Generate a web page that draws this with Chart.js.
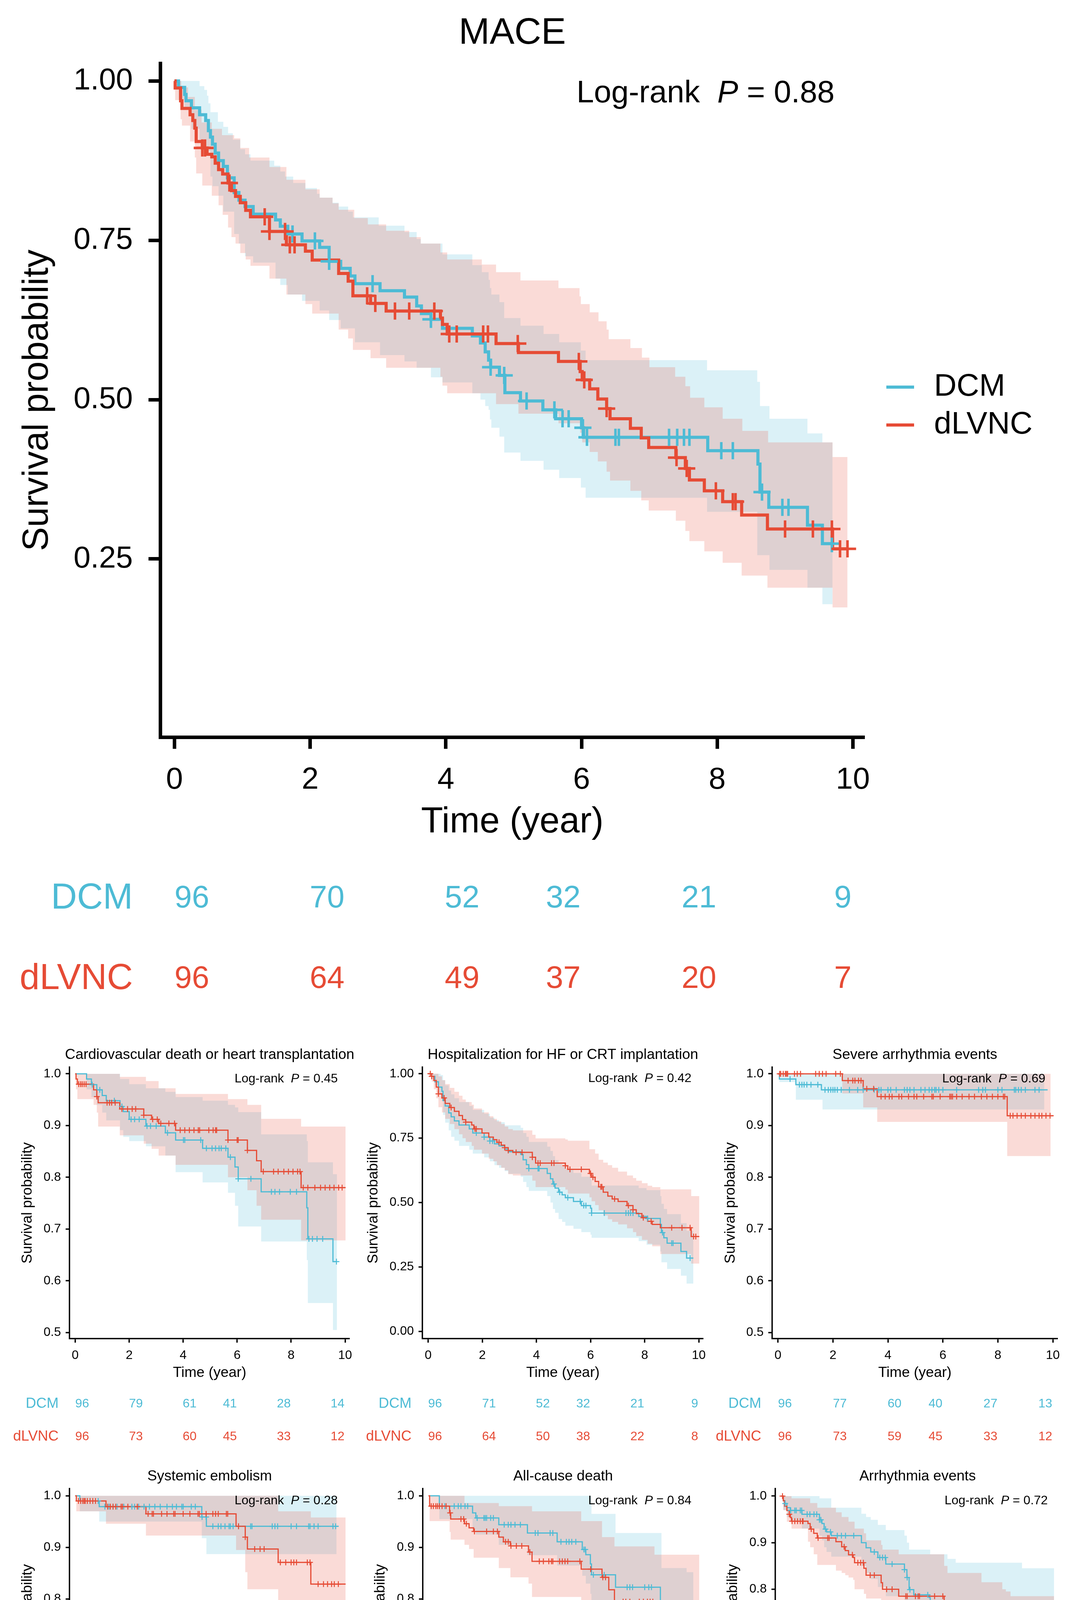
<!DOCTYPE html>
<html>
<head>
<meta charset="utf-8">
<title>MACE Kaplan-Meier curves</title>
<script src="https://cdn.jsdelivr.net/npm/chart.js@4.4.1/dist/chart.umd.min.js"></script>
<style>
html, body { margin:0; padding:0; background:#ffffff; }
body { position:relative; width:2761px; height:4846px; overflow:hidden; }
canvas { position:absolute; display:block; }
</style>
</head>
<body>
<script>
// ---------------- DATA ----------------
const GROUPS = ['DCM', 'dLVNC'];
const X_TICKS = [0, 2, 4, 6, 8, 10];
const X_TICK_LABELS = ['0', '2', '4', '6', '8', '10'];
const Y_TICKS_MAIN = [0.25, 0.5, 0.75, 1.0];
const Y_TICK_LABELS_MAIN = ['0.25', '0.50', '0.75', '1.00'];
const Y_TICKS_HALF = [0.5, 0.6, 0.7, 0.8, 0.9, 1.0];
const Y_TICK_LABELS_HALF = ['0.5', '0.6', '0.7', '0.8', '0.9', '1.0'];
const Y_TICKS_FULL = [0, 0.25, 0.5, 0.75, 1.0];
const Y_TICK_LABELS_FULL = ['0.00', '0.25', '0.50', '0.75', '1.00'];
const RISK_TIMES = [0, 2.25, 4.24, 5.73, 7.73, 9.98];

// MACE
const mace_dcm_curve = [[0,1],[0.06,0.990],[0.15,0.979],[0.17,0.969],[0.25,0.958],[0.37,0.947],[0.46,0.938],[0.50,0.922],[0.53,0.912],[0.56,0.901],[0.60,0.887],[0.65,0.875],[0.72,0.866],[0.78,0.848],[0.88,0.825],[0.95,0.813],[1.04,0.803],[1.16,0.791],[1.49,0.782],[1.56,0.772],[1.67,0.760],[1.88,0.749],[2.14,0.739],[2.28,0.717],[2.45,0.706],[2.59,0.694],[2.66,0.682],[3.03,0.671],[3.39,0.661],[3.57,0.647],[3.64,0.635],[3.78,0.626],[3.95,0.612],[4.39,0.600],[4.51,0.589],[4.58,0.575],[4.63,0.562],[4.66,0.551],[4.79,0.538],[4.87,0.511],[5.10,0.498],[5.43,0.484],[5.62,0.470],[6.00,0.456],[6.03,0.441],[7.86,0.420],[8.60,0.399],[8.63,0.355],[8.76,0.331],[9.33,0.303],[9.55,0.274],[9.70,0.274]];
const mace_dcm_censor = [1.74,2.07,2.28,2.92,3.78,4.66,4.86,5.19,5.60,5.72,5.81,6.02,6.08,6.50,6.55,7.29,7.41,7.51,7.59,8.06,8.23,8.66,8.96,9.05,9.69];
const mace_dcm_upper = [[0,1],[0.37,0.992],[0.44,0.986],[0.48,0.977],[0.50,0.965],[0.53,0.951],[0.64,0.936],[0.72,0.928],[0.79,0.918],[0.86,0.908],[0.97,0.893],[1.04,0.885],[1.12,0.875],[1.47,0.867],[1.56,0.858],[1.63,0.850],[1.75,0.840],[1.93,0.832],[2.10,0.823],[2.14,0.817],[2.33,0.809],[2.42,0.803],[2.56,0.795],[2.63,0.786],[3.01,0.773],[3.39,0.763],[3.57,0.752],[3.63,0.745],[3.95,0.728],[4.39,0.711],[4.53,0.700],[4.63,0.688],[4.65,0.675],[4.67,0.665],[4.79,0.653],[4.86,0.628],[5.10,0.616],[5.44,0.603],[5.67,0.590],[5.99,0.577],[6.06,0.562],[7.85,0.546],[8.59,0.528],[8.63,0.490],[8.77,0.470],[9.33,0.447],[9.55,0.433],[9.70,0.433]];
const mace_dcm_lower = [[0,1],[0.06,0.970],[0.15,0.955],[0.25,0.925],[0.37,0.905],[0.46,0.890],[0.53,0.850],[0.56,0.835],[0.65,0.820],[0.72,0.795],[0.88,0.760],[0.95,0.745],[1.04,0.725],[1.16,0.715],[1.49,0.690],[1.56,0.680],[1.67,0.665],[1.88,0.655],[2.14,0.640],[2.28,0.625],[2.45,0.612],[2.66,0.590],[3.03,0.570],[3.39,0.560],[3.57,0.550],[3.78,0.535],[3.95,0.527],[4.39,0.510],[4.51,0.500],[4.58,0.490],[4.63,0.484],[4.65,0.469],[4.67,0.456],[4.79,0.442],[4.86,0.417],[5.10,0.404],[5.44,0.390],[5.67,0.377],[5.99,0.362],[6.06,0.346],[7.85,0.324],[8.59,0.256],[8.77,0.233],[9.33,0.205],[9.55,0.179],[9.70,0.179]];
const mace_dlvnc_curve = [[0,1],[0.01,0.989],[0.09,0.969],[0.11,0.957],[0.23,0.947],[0.27,0.938],[0.30,0.926],[0.32,0.905],[0.41,0.895],[0.48,0.885],[0.55,0.881],[0.60,0.871],[0.65,0.861],[0.71,0.854],[0.79,0.840],[0.84,0.828],[0.90,0.819],[0.97,0.809],[1.05,0.797],[1.12,0.787],[1.40,0.764],[1.65,0.743],[1.93,0.733],[2.03,0.719],[2.42,0.698],[2.56,0.686],[2.63,0.663],[2.89,0.651],[3.12,0.639],[3.92,0.628],[3.95,0.618],[4.02,0.603],[4.74,0.588],[5.07,0.574],[5.66,0.560],[5.98,0.544],[6.01,0.531],[6.12,0.517],[6.24,0.501],[6.37,0.486],[6.42,0.470],[6.72,0.455],[6.88,0.440],[6.99,0.425],[7.39,0.409],[7.53,0.392],[7.59,0.374],[7.81,0.357],[8.08,0.340],[8.36,0.319],[8.74,0.297],[9.70,0.266],[9.92,0.266]];
const mace_dlvnc_censor = [0.41,0.45,0.81,1.33,1.40,1.63,1.70,1.77,2.84,2.96,3.25,3.46,3.83,4.05,4.16,4.55,4.62,5.06,5.96,6.04,6.37,7.40,7.55,7.98,8.23,8.27,9.00,9.41,9.69,9.81,9.92];
const mace_dlvnc_upper = [[0,1],[0.10,0.990],[0.20,0.975],[0.30,0.955],[0.40,0.935],[0.55,0.925],[0.70,0.915],[0.88,0.910],[0.97,0.895],[1.10,0.880],[1.40,0.865],[1.65,0.845],[1.93,0.830],[2.14,0.817],[2.33,0.808],[2.42,0.798],[2.65,0.785],[2.85,0.775],[3.12,0.765],[3.46,0.755],[3.63,0.745],[3.92,0.731],[4.02,0.720],[4.53,0.712],[4.74,0.700],[5.10,0.687],[5.66,0.675],[5.97,0.662],[5.99,0.650],[6.12,0.637],[6.25,0.623],[6.37,0.610],[6.40,0.595],[6.72,0.581],[6.89,0.566],[7.00,0.551],[7.38,0.536],[7.53,0.521],[7.60,0.503],[7.81,0.488],[8.08,0.470],[8.37,0.451],[8.75,0.433],[9.70,0.410],[9.92,0.410]];
const mace_dlvnc_lower = [[0,1],[0.01,0.970],[0.09,0.940],[0.11,0.930],[0.23,0.905],[0.30,0.880],[0.32,0.855],[0.41,0.836],[0.55,0.820],[0.65,0.805],[0.71,0.790],[0.79,0.770],[0.84,0.755],[0.90,0.745],[0.97,0.730],[1.05,0.720],[1.12,0.710],[1.40,0.690],[1.65,0.665],[1.93,0.650],[2.03,0.635],[2.42,0.610],[2.56,0.596],[2.63,0.578],[2.89,0.565],[3.12,0.550],[3.92,0.536],[3.95,0.522],[4.02,0.510],[4.74,0.493],[5.07,0.478],[5.66,0.463],[5.98,0.448],[6.01,0.433],[6.12,0.418],[6.24,0.403],[6.37,0.387],[6.42,0.373],[6.72,0.357],[6.88,0.342],[6.99,0.326],[7.39,0.310],[7.53,0.294],[7.59,0.278],[7.81,0.262],[8.08,0.244],[8.36,0.224],[8.74,0.205],[9.70,0.174],[9.92,0.174]];
const mace_dcm_risk = [96, 70, 52, 32, 21, 9];
const mace_dlvnc_risk = [96, 64, 49, 37, 20, 7];

// Cardiovascular death or heart transplantation
const cv_dcm_curve = [[0,1],[0.42,0.990],[0.60,0.979],[0.80,0.969],[1.00,0.958],[1.15,0.948],[1.66,0.937],[1.78,0.927],[2.00,0.912],[2.62,0.899],[3.34,0.886],[3.72,0.872],[4.72,0.856],[5.66,0.839],[5.92,0.820],[6.04,0.797],[6.89,0.772],[8.58,0.741],[8.62,0.681],[9.55,0.637],[9.70,0.637]];
const cv_dcm_censor = [0.63,0.91,1.45,1.73,2.07,2.2,2.37,2.66,2.79,3.0,3.42,4.01,4.06,4.65,4.86,5.07,5.2,5.33,5.41,5.58,5.75,6.04,6.51,7.27,7.4,7.57,7.97,8.2,8.66,8.79,8.96,9.17,9.68];
const cv_dcm_upper = [[0,1],[1.66,0.99],[2.00,0.98],[2.62,0.972],[3.34,0.965],[3.72,0.955],[4.72,0.948],[5.66,0.94],[5.92,0.935],[6.04,0.926],[6.89,0.883],[8.58,0.87],[8.62,0.829],[9.55,0.806],[9.70,0.806]];
const cv_dcm_lower = [[0,1],[0.42,0.97],[0.60,0.955],[0.80,0.94],[1.00,0.925],[1.15,0.91],[1.66,0.891],[1.78,0.878],[2.00,0.87],[2.62,0.86],[3.34,0.842],[3.72,0.81],[4.72,0.79],[5.66,0.77],[5.92,0.745],[6.04,0.705],[6.89,0.676],[8.58,0.64],[8.62,0.557],[9.55,0.505],[9.70,0.505]];
const cv_dlvnc_curve = [[0,1],[0.03,0.99],[0.08,0.98],[0.68,0.969],[0.80,0.956],[0.85,0.944],[1.65,0.932],[2.54,0.92],[2.83,0.912],[3.09,0.904],[3.72,0.891],[5.66,0.872],[6.38,0.852],[6.72,0.832],[6.89,0.811],[8.37,0.780],[10.02,0.780]];
const cv_dlvnc_censor = [0.13,0.2,0.26,0.33,0.4,0.8,1.18,1.27,1.35,1.48,1.73,1.94,2.11,2.24,2.54,2.87,3.04,3.17,3.47,3.68,3.89,4.06,4.23,4.4,4.56,4.61,4.95,5.11,5.2,5.24,5.66,6.0,6.04,6.38,6.97,7.35,7.52,7.73,7.9,8.07,8.24,8.33,8.45,8.62,8.88,9.09,9.26,9.43,9.59,9.76,9.89];
const cv_dlvnc_upper = [[0,1],[1.65,0.994],[2.62,0.986],[3.09,0.972],[3.72,0.961],[5.66,0.951],[6.38,0.94],[6.89,0.913],[8.37,0.898],[10.02,0.898]];
const cv_dlvnc_lower = [[0,1],[0.03,0.97],[0.08,0.951],[0.68,0.94],[0.80,0.925],[0.85,0.898],[1.65,0.881],[2.54,0.865],[2.83,0.855],[3.09,0.842],[3.72,0.824],[5.66,0.80],[6.38,0.775],[6.72,0.745],[6.89,0.718],[8.37,0.678],[10.02,0.678]];
const cv_dcm_risk = [96, 79, 61, 41, 28, 14];
const cv_dlvnc_risk = [96, 73, 60, 45, 33, 12];

// Hospitalization for HF or CRT implantation
const hf_dcm_curve = [[0,1],[0.13,0.99],[0.25,0.969],[0.38,0.948],[0.51,0.932],[0.55,0.896],[0.63,0.875],[0.76,0.848],[0.85,0.833],[0.97,0.817],[1.14,0.801],[1.52,0.786],[1.65,0.770],[2.07,0.754],[2.28,0.739],[2.45,0.728],[2.62,0.720],[2.83,0.707],[2.96,0.697],[3.42,0.687],[3.51,0.666],[3.63,0.647],[3.72,0.632],[4.40,0.613],[4.52,0.592],[4.61,0.572],[4.69,0.556],[4.82,0.540],[4.95,0.530],[5.07,0.519],[5.37,0.504],[5.66,0.488],[6.00,0.478],[6.04,0.459],[7.78,0.446],[8.07,0.438],[8.58,0.415],[8.62,0.383],[8.71,0.363],[8.83,0.342],[9.34,0.310],[9.55,0.284],[9.80,0.284]];
const hf_dcm_censor = [1.78,2.07,2.28,2.38,3.72,4.06,4.10,4.65,4.86,5.16,5.62,5.75,5.83,6.04,6.51,7.31,7.40,7.48,7.57,8.11,8.66,9.0,9.05,9.68];
const hf_dcm_upper = [[0,1],[0.46,0.995],[0.55,0.975],[0.63,0.955],[0.76,0.935],[0.85,0.92],[0.97,0.905],[1.14,0.89],[1.52,0.875],[1.65,0.86],[2.07,0.845],[2.28,0.83],[2.45,0.82],[2.62,0.812],[2.83,0.80],[3.42,0.79],[3.51,0.77],[3.63,0.755],[3.72,0.735],[4.40,0.717],[4.52,0.70],[4.61,0.68],[4.69,0.665],[4.82,0.65],[4.95,0.64],[5.07,0.63],[5.37,0.615],[5.66,0.60],[6.00,0.59],[6.04,0.566],[7.78,0.556],[8.07,0.548],[8.58,0.525],[8.62,0.495],[8.71,0.475],[8.83,0.455],[9.34,0.42],[9.55,0.39],[9.80,0.39]];
const hf_dcm_lower = [[0,1],[0.13,0.98],[0.25,0.955],[0.38,0.925],[0.51,0.895],[0.55,0.84],[0.63,0.81],[0.76,0.78],[0.85,0.755],[0.97,0.74],[1.14,0.72],[1.52,0.705],[1.65,0.69],[2.07,0.675],[2.28,0.66],[2.45,0.645],[2.62,0.635],[2.83,0.622],[2.96,0.612],[3.42,0.60],[3.51,0.58],[3.63,0.56],[3.72,0.545],[4.40,0.525],[4.52,0.50],[4.61,0.475],[4.69,0.46],[4.82,0.436],[4.95,0.425],[5.07,0.41],[5.37,0.398],[5.66,0.385],[6.00,0.375],[6.04,0.363],[7.78,0.35],[8.07,0.336],[8.58,0.31],[8.62,0.268],[8.83,0.242],[9.34,0.216],[9.55,0.185],[9.80,0.185]];
const hf_dlvnc_curve = [[0,1],[0.13,0.99],[0.21,0.974],[0.30,0.948],[0.38,0.922],[0.51,0.906],[0.63,0.885],[0.80,0.869],[0.97,0.854],[1.14,0.838],[1.27,0.822],[1.39,0.812],[1.61,0.801],[1.69,0.786],[1.99,0.770],[2.24,0.754],[2.41,0.744],[2.54,0.734],[2.70,0.723],[2.83,0.713],[2.96,0.702],[3.13,0.695],[3.85,0.676],[3.97,0.653],[5.07,0.643],[5.16,0.629],[5.96,0.613],[6.04,0.598],[6.17,0.582],[6.30,0.561],[6.47,0.540],[6.64,0.525],[6.80,0.514],[7.02,0.504],[7.35,0.488],[7.57,0.472],[7.69,0.457],[7.90,0.441],[8.11,0.427],[8.28,0.415],[8.58,0.402],[9.72,0.368],[10.02,0.368]];
const hf_dlvnc_censor = [0.08,0.13,0.38,0.59,0.85,1.39,1.73,1.78,2.62,2.83,2.96,3.25,3.47,3.85,4.06,4.14,4.56,4.65,5.07,5.24,5.66,6.0,6.09,6.38,6.42,6.89,7.40,7.57,7.95,8.24,9.0,9.38,9.68,9.81,9.89];
const hf_dlvnc_upper = [[0,1],[0.38,0.99],[0.51,0.975],[0.63,0.96],[0.80,0.945],[0.97,0.93],[1.14,0.915],[1.27,0.90],[1.39,0.89],[1.61,0.88],[1.69,0.865],[1.99,0.85],[2.24,0.835],[2.41,0.825],[2.54,0.815],[2.70,0.805],[2.83,0.795],[2.96,0.785],[3.13,0.78],[3.85,0.763],[3.97,0.749],[5.07,0.745],[5.16,0.74],[5.96,0.707],[6.17,0.69],[6.30,0.666],[6.47,0.655],[6.64,0.645],[6.80,0.635],[7.02,0.62],[7.35,0.605],[7.57,0.595],[7.69,0.585],[7.90,0.575],[8.11,0.565],[8.28,0.56],[8.58,0.551],[9.72,0.525],[10.02,0.525]];
const hf_dlvnc_lower = [[0,1],[0.13,0.97],[0.21,0.94],[0.30,0.905],[0.38,0.87],[0.51,0.85],[0.63,0.825],[0.80,0.805],[0.97,0.785],[1.14,0.765],[1.27,0.75],[1.39,0.735],[1.61,0.72],[1.69,0.705],[1.99,0.69],[2.24,0.67],[2.41,0.66],[2.54,0.645],[2.70,0.635],[2.83,0.625],[2.96,0.61],[3.13,0.605],[3.85,0.585],[3.97,0.56],[5.07,0.55],[5.16,0.535],[5.96,0.52],[6.04,0.505],[6.17,0.49],[6.30,0.47],[6.47,0.45],[6.64,0.435],[6.80,0.425],[7.02,0.415],[7.35,0.40],[7.57,0.385],[7.69,0.37],[7.90,0.355],[8.11,0.34],[8.28,0.33],[8.58,0.30],[9.72,0.263],[10.02,0.263]];
const hf_dcm_risk = [96, 71, 52, 32, 21, 9];
const hf_dlvnc_risk = [96, 64, 50, 38, 22, 8];

// Severe arrhythmia events
const sa_dcm_curve = [[0,1],[0.05,0.99],[0.65,0.979],[1.58,0.969],[9.81,0.969]];
const sa_dcm_censor = [0.44,0.78,0.87,0.95,1.05,1.2,1.45,1.71,1.83,1.92,2.0,2.07,2.16,2.3,2.6,2.9,3.1,3.5,3.67,3.75,4.0,4.1,4.3,4.6,4.7,4.8,4.95,5.2,5.35,5.5,5.6,5.7,5.75,5.85,6.0,6.5,7.3,7.45,7.55,8.0,8.15,8.6,8.65,8.75,8.85,9.0,9.35,9.5];
const sa_dcm_upper = [[0,1],[9.69,1]];
const sa_dcm_lower = [[0,1],[0.05,0.984],[0.65,0.95],[1.62,0.931],[9.69,0.931]];
const sa_dlvnc_curve = [[0,1],[2.34,0.987],[3.10,0.971],[3.61,0.956],[8.34,0.919],[10.03,0.919]];
const sa_dlvnc_censor = [0.06,0.1,0.19,0.27,0.31,0.35,0.6,0.7,0.82,1.37,1.5,1.62,1.75,2.1,2.27,2.55,2.72,2.8,2.93,3.02,3.23,3.48,3.75,3.9,4.05,4.15,4.4,4.5,4.75,4.95,5.05,5.3,5.6,5.65,5.9,6.25,6.3,6.35,6.5,6.7,6.95,7.15,7.4,7.6,7.8,8.0,8.2,8.25,8.45,8.55,8.7,8.85,9.0,9.2,9.35,9.5,9.6,9.75,9.9];
const sa_dlvnc_upper = [[0,1],[9.92,1]];
const sa_dlvnc_lower = [[0,1],[2.34,0.962],[3.10,0.935],[3.61,0.907],[8.34,0.841],[9.92,0.841]];
const sa_dcm_risk = [96, 77, 60, 40, 27, 13];
const sa_dlvnc_risk = [96, 73, 59, 45, 33, 12];

// Systemic embolism
const se_dcm_curve = [[0,1],[0.17,0.99],[0.89,0.979],[4.69,0.959],[4.86,0.941],[9.76,0.941]];
const se_dcm_censor = [0.85,1.1,1.25,1.4,1.55,1.8,2.1,2.2,2.35,2.55,2.75,2.95,3.15,3.4,3.6,3.75,3.95,4.0,4.3,4.45,4.7,4.85,5.1,5.3,5.4,5.55,5.7,5.75,5.85,6.05,6.5,6.55,7.3,7.4,7.5,8.0,8.2,8.65,8.7,8.85,9.0,9.55,9.65];
const se_dcm_upper = [[0,1],[9.68,1]];
const se_dcm_lower = [[0,1],[0.17,0.97],[0.89,0.95],[4.69,0.918],[4.86,0.887],[9.68,0.887]];
const se_dlvnc_curve = [[0,1],[0.04,0.99],[1.14,0.979],[2.62,0.965],[5.96,0.941],[6.30,0.920],[6.38,0.897],[7.52,0.871],[8.73,0.829],[10.02,0.829]];
const se_dlvnc_censor = [0.12,0.2,0.28,0.33,0.37,0.45,0.55,0.65,0.75,1.2,1.3,1.4,1.5,1.7,1.75,1.95,2.3,2.7,2.85,2.9,3.2,3.4,3.65,3.7,4.0,4.25,4.55,4.6,4.85,5.1,5.2,5.3,5.6,5.65,6.05,6.3,6.65,6.85,7.0,7.6,7.8,8.0,8.1,8.2,8.6,8.7,9.0,9.2,9.35,9.5,9.6,9.75];
const se_dlvnc_upper = [[0,1],[7.52,0.97],[8.73,0.958],[10.02,0.958]];
const se_dlvnc_lower = [[0,1],[0.04,0.97],[1.14,0.946],[2.62,0.923],[5.96,0.895],[6.30,0.852],[6.38,0.819],[7.52,0.782],[8.73,0.718],[10.02,0.718]];
const se_dcm_risk = [96, 78, 60, 39, 26, 13];
const se_dlvnc_risk = [96, 72, 59, 44, 30, 12];

// All-cause death
const acd_dcm_curve = [[0,1],[0.40,0.98],[1.63,0.967],[1.75,0.957],[2.60,0.944],[3.66,0.928],[4.76,0.911],[5.69,0.896],[5.82,0.886],[5.99,0.868],[6.03,0.847],[6.92,0.823],[8.58,0.790],[8.62,0.724],[9.55,0.678],[9.80,0.678]];
const acd_dcm_censor = [0.4,0.6,0.95,1.1,1.2,1.35,1.45,1.8,2.05,2.1,2.15,2.3,2.4,2.8,2.95,3.05,3.2,3.4,3.95,4.05,4.5,4.6,4.9,5.1,5.2,5.3,5.45,5.75,5.8,6.1,6.5,7.35,7.45,7.55,8.0,8.15,8.25,8.7,8.85,9.0,9.15,9.75];
const acd_dcm_upper = [[0,1],[6.03,0.965],[6.92,0.928],[8.62,0.86],[9.55,0.852],[9.80,0.852]];
const acd_dcm_lower = [[0,1],[0.40,0.955],[1.63,0.935],[1.75,0.925],[2.60,0.905],[3.66,0.885],[4.76,0.865],[5.69,0.845],[5.82,0.83],[5.99,0.81],[6.03,0.761],[6.92,0.727],[8.58,0.715],[8.62,0.60],[9.55,0.541],[9.80,0.541]];
const acd_dlvnc_curve = [[0,1],[0.04,0.98],[0.78,0.967],[0.82,0.955],[1.33,0.946],[1.50,0.938],[1.67,0.931],[2.60,0.920],[2.77,0.911],[3.03,0.903],[3.70,0.891],[3.83,0.873],[5.65,0.858],[6.42,0.842],[6.67,0.818],[6.88,0.795],[8.36,0.766],[10.02,0.766]];
const acd_dlvnc_censor = [0.1,0.18,0.27,0.33,0.4,0.5,0.65,0.8,1.2,1.3,1.4,1.7,2.15,2.4,2.55,2.85,2.95,3.05,3.25,3.45,3.75,4.1,4.25,4.45,4.55,4.6,4.85,4.95,5.05,5.15,5.6,6.0,6.45,6.55,7.2,7.3,7.45,7.8,7.95,8.1,8.2,8.3,8.55,8.65,8.85,9.0,9.2,9.35,9.5,9.6,9.7,9.8];
const acd_dlvnc_upper = [[0,1],[1.33,0.986],[2.60,0.98],[3.83,0.97],[5.65,0.951],[6.42,0.92],[6.88,0.902],[8.36,0.886],[10.02,0.886]];
const acd_dlvnc_lower = [[0,1],[0.04,0.951],[0.78,0.93],[0.82,0.915],[1.33,0.905],[1.50,0.897],[1.67,0.88],[2.60,0.86],[3.03,0.842],[3.70,0.83],[3.83,0.804],[5.65,0.779],[6.42,0.758],[6.67,0.73],[6.88,0.70],[8.36,0.662],[10.02,0.662]];
const acd_dcm_risk = [96, 79, 61, 41, 28, 14];
const acd_dlvnc_risk = [96, 73, 60, 45, 33, 12];

// Arrhythmia events
const ae_dcm_curve = [[0,1],[0.08,0.99],[0.13,0.984],[0.21,0.975],[0.34,0.969],[0.76,0.961],[1.40,0.949],[1.49,0.941],[1.57,0.929],[1.66,0.923],[1.83,0.915],[2.93,0.900],[3.10,0.889],[3.27,0.880],[3.53,0.868],[3.82,0.854],[4.50,0.842],[4.59,0.825],[4.67,0.799],[4.84,0.788],[5.40,0.782],[5.44,0.764],[5.99,0.759],[6.07,0.753],[6.37,0.741],[8.79,0.686],[9.94,0.611],[9.96,0.611]];
const ae_dcm_censor = [0.15,0.35,0.5,0.55,0.7,0.75,0.95,1.05,1.2,1.3,1.4,1.45,1.62,1.8,2.05,2.2,2.35,2.65,3.4,3.6,3.7,3.8,4.05,4.5,4.6,4.7,5.35,5.6,5.7,5.75,6.05,6.55,7.05,7.5,7.65,7.75,8.15,8.3,8.6,8.65,9.2,9.25,9.55,9.65];
const ae_dcm_upper = [[0,1],[1.40,0.995],[1.83,0.975],[2.93,0.962],[3.10,0.955],[3.27,0.949],[3.53,0.938],[3.82,0.927],[4.50,0.915],[4.59,0.90],[4.67,0.885],[5.44,0.875],[6.07,0.865],[6.37,0.857],[8.79,0.845],[9.96,0.845]];
const ae_dcm_lower = [[0,1],[0.08,0.97],[0.21,0.955],[0.34,0.945],[0.76,0.93],[1.40,0.915],[1.49,0.905],[1.57,0.89],[1.66,0.88],[1.83,0.87],[2.93,0.85],[3.10,0.835],[3.27,0.822],[3.53,0.805],[3.82,0.785],[4.50,0.77],[4.59,0.75],[4.67,0.72],[4.84,0.71],[5.40,0.70],[5.44,0.67],[6.07,0.66],[6.37,0.637],[8.79,0.558],[9.96,0.558]];
const ae_dlvnc_curve = [[0,1],[0.08,0.99],[0.13,0.978],[0.21,0.969],[0.30,0.961],[0.34,0.954],[0.38,0.946],[0.98,0.941],[1.06,0.929],[1.19,0.920],[1.32,0.910],[2.00,0.902],[2.21,0.891],[2.34,0.883],[2.46,0.874],[2.63,0.868],[2.68,0.857],[3.02,0.845],[3.10,0.830],[3.65,0.814],[3.70,0.800],[4.29,0.785],[5.95,0.764],[6.07,0.747],[7.31,0.724],[8.07,0.707],[8.20,0.698],[8.37,0.640],[10.02,0.640]];
const ae_dlvnc_censor = [0.05,0.3,0.4,0.5,0.6,0.7,0.78,0.8,1.1,1.35,1.7,1.75,2.3,2.6,2.8,2.9,3.0,3.25,3.4,3.85,4.05,4.55,4.6,4.9,5.0,5.05,5.6,5.9,6.45,6.7,6.9,7.05,7.45,7.6,7.9,8.25,8.45,8.55,9.1,9.3,9.45,9.55,9.65,9.75,9.85];
const ae_dlvnc_upper = [[0,1],[0.38,0.995],[1.06,0.985],[1.32,0.975],[2.00,0.965],[2.21,0.955],[2.46,0.945],[2.68,0.93],[3.02,0.92],[3.10,0.905],[3.65,0.895],[3.70,0.885],[4.29,0.875],[5.95,0.85],[6.07,0.835],[7.31,0.815],[8.07,0.80],[8.20,0.795],[8.37,0.785],[9.96,0.785]];
const ae_dlvnc_lower = [[0,1],[0.08,0.97],[0.21,0.945],[0.38,0.93],[0.98,0.902],[1.06,0.89],[1.19,0.875],[1.32,0.852],[2.00,0.84],[2.21,0.835],[2.34,0.83],[2.46,0.825],[2.63,0.82],[2.68,0.80],[3.02,0.79],[3.10,0.78],[3.65,0.75],[3.70,0.735],[4.29,0.698],[5.95,0.68],[6.07,0.665],[7.31,0.627],[8.07,0.605],[8.20,0.593],[8.37,0.523],[9.96,0.523]];
const ae_dcm_risk = [96, 71, 56, 34, 21, 8];
const ae_dlvnc_risk = [96, 70, 54, 41, 28, 11];

// ---------------- STYLE ----------------
const FONT = '"Liberation Sans", Arial, Helvetica, sans-serif';
const LINE_COLORS = ['#4DBBD5', '#E64B35'];
const BAND_COLORS = ['rgba(77,187,213,0.2)', 'rgba(230,75,53,0.2)'];
const RISK_ALIGN = ['left', 'center', 'center', 'center', 'center', 'right'];

const MAIN_STYLE = { tickFont:78, axisTitleFont:92, titleFont:95, pFont:80, riskLabelFont:92, riskNumFont:80,
  tickLen:30, xTickPad:34, yTickPad:40, xAxisH:274, axisW:9, lineW:8, censorR:22, censorW:6.5,
  titleOffset:76.5, riskRows:[414, 620], riskLabelGap:70,
  legend:{ font:80, lineX:[2268, 2339], textX:2390, rows:[991, 1088], lineW:8 } };
const SMALL_STYLE = { tickFont:32, axisTitleFont:37, titleFont:37, pFont:32, riskLabelFont:37, riskNumFont:32,
  tickLen:10, xTickPad:14, yTickPad:12, xAxisH:110, axisW:3.5, lineW:3, censorR:7.5, censorW:2.5,
  titleOffset:31, riskRows:[167, 251], riskLabelGap:28, legend:null };

const ROW1 = { y:2660, h:1070, t:2731.7, b:3427.2 };
const ROW2 = { y:3745, h:1070, t:3810.8, b:4508.4 };

const PANELS = [
  { title:'MACE', p:'0.88', pPos:[9.73, 0.98], yMin:-0.0295, yMax:1.0275, yTicks:Y_TICKS_MAIN, yLabels:Y_TICK_LABELS_MAIN,
    curves:[mace_dcm_curve, mace_dlvnc_curve], censors:[mace_dcm_censor, mace_dlvnc_censor],
    uppers:[mace_dcm_upper, mace_dlvnc_upper], lowers:[mace_dcm_lower, mace_dlvnc_lower], risk:[mace_dcm_risk, mace_dlvnc_risk],
    style:MAIN_STYLE, box:{ x:0, y:0, w:2761, h:2640, l:410, t:162.5, r:2212, b:1887, yTitleX:97 } },
  { title:'Cardiovascular death or heart transplantation', p:'0.45', pPos:[9.73, 0.99], yMin:0.488, yMax:1.013, yTicks:Y_TICKS_HALF, yLabels:Y_TICK_LABELS_HALF,
    curves:[cv_dcm_curve, cv_dlvnc_curve], censors:[cv_dcm_censor, cv_dlvnc_censor],
    uppers:[cv_dcm_upper, cv_dlvnc_upper], lowers:[cv_dcm_lower, cv_dlvnc_lower], risk:[cv_dcm_risk, cv_dlvnc_risk],
    style:SMALL_STYLE, box:{ x:0, y:ROW1.y, w:915, h:ROW1.h, l:178, t:ROW1.t, r:906, b:ROW1.b, yTitleX:71 } },
  { title:'Hospitalization for HF or CRT implantation', p:'0.42', pPos:[9.73, 0.981], yMin:-0.029, yMax:1.026, yTicks:Y_TICKS_FULL, yLabels:Y_TICK_LABELS_FULL,
    curves:[hf_dcm_curve, hf_dlvnc_curve], censors:[hf_dcm_censor, hf_dlvnc_censor],
    uppers:[hf_dcm_upper, hf_dlvnc_upper], lowers:[hf_dcm_lower, hf_dlvnc_lower], risk:[hf_dcm_risk, hf_dlvnc_risk],
    style:SMALL_STYLE, box:{ x:915, y:ROW1.y, w:905, h:ROW1.h, l:1081, t:ROW1.t, r:1810, b:ROW1.b, yTitleX:956 } },
  { title:'Severe arrhythmia events', p:'0.69', pPos:[9.73, 0.99], yMin:0.488, yMax:1.013, yTicks:Y_TICKS_HALF, yLabels:Y_TICK_LABELS_HALF,
    curves:[sa_dcm_curve, sa_dlvnc_curve], censors:[sa_dcm_censor, sa_dlvnc_censor],
    uppers:[sa_dcm_upper, sa_dlvnc_upper], lowers:[sa_dcm_lower, sa_dlvnc_lower], risk:[sa_dcm_risk, sa_dlvnc_risk],
    style:SMALL_STYLE, box:{ x:1820, y:ROW1.y, w:941, h:ROW1.h, l:1976, t:ROW1.t, r:2706, b:ROW1.b, yTitleX:1869.6 } },
  { title:'Systemic embolism', p:'0.28', pPos:[9.73, 0.99], yMin:0.486, yMax:1.014, yTicks:Y_TICKS_HALF, yLabels:Y_TICK_LABELS_HALF,
    curves:[se_dcm_curve, se_dlvnc_curve], censors:[se_dcm_censor, se_dlvnc_censor],
    uppers:[se_dcm_upper, se_dlvnc_upper], lowers:[se_dcm_lower, se_dlvnc_lower], risk:[se_dcm_risk, se_dlvnc_risk],
    style:SMALL_STYLE, box:{ x:0, y:ROW2.y, w:915, h:ROW2.h, l:178, t:ROW2.t, r:906, b:ROW2.b, yTitleX:71 } },
  { title:'All-cause death', p:'0.84', pPos:[9.73, 0.99], yMin:0.486, yMax:1.014, yTicks:Y_TICKS_HALF, yLabels:Y_TICK_LABELS_HALF,
    curves:[acd_dcm_curve, acd_dlvnc_curve], censors:[acd_dcm_censor, acd_dlvnc_censor],
    uppers:[acd_dcm_upper, acd_dlvnc_upper], lowers:[acd_dcm_lower, acd_dlvnc_lower], risk:[acd_dcm_risk, acd_dlvnc_risk],
    style:SMALL_STYLE, box:{ x:915, y:ROW2.y, w:905, h:ROW2.h, l:1082, t:ROW2.t, r:1810, b:ROW2.b, yTitleX:974 } },
  { title:'Arrhythmia events', p:'0.72', pPos:[9.73, 0.99], yMin:0.431, yMax:1.016, yTicks:Y_TICKS_HALF, yLabels:Y_TICK_LABELS_HALF,
    curves:[ae_dcm_curve, ae_dlvnc_curve], censors:[ae_dcm_censor, ae_dlvnc_censor],
    uppers:[ae_dcm_upper, ae_dlvnc_upper], lowers:[ae_dcm_lower, ae_dlvnc_lower], risk:[ae_dcm_risk, ae_dlvnc_risk],
    style:SMALL_STYLE, box:{ x:1820, y:ROW2.y, w:941, h:ROW2.h, l:1984, t:ROW2.t, r:2712, b:ROW2.b, yTitleX:1875.5 } }
];

// ---------------- HELPERS ----------------
function toXY(pairs) { return pairs.map(p => ({ x: p[0], y: p[1] })); }
function survAt(curve, t) {
  let v = curve[0][1];
  for (const [tt, s] of curve) { if (tt <= t + 1e-9) v = s; else break; }
  return v;
}

function drawExtras(chart, P) {
  const st = P.style, ctx = chart.ctx, ca = chart.chartArea;
  const xs = chart.scales.x, ys = chart.scales.y;
  ctx.save();
  ctx.textBaseline = 'middle';
  // Title
  ctx.fillStyle = '#000';
  ctx.font = `${st.titleFont}px ${FONT}`;
  ctx.textAlign = 'center';
  ctx.fillText(P.title, (ca.left + ca.right) / 2, ca.top - st.titleOffset);
  // Log-rank P
  const parts = [['Log-rank  ', ''], ['P', 'italic '], [' = ' + P.p, '']];
  const widths = parts.map(([s, f]) => { ctx.font = `${f}${st.pFont}px ${FONT}`; return ctx.measureText(s).width; });
  let px = xs.getPixelForValue(P.pPos[0]) - widths.reduce((a, b) => a + b, 0);
  const py = ys.getPixelForValue(P.pPos[1]);
  ctx.textAlign = 'left';
  parts.forEach(([s, f], i) => { ctx.font = `${f}${st.pFont}px ${FONT}`; ctx.fillText(s, px, py); px += widths[i]; });
  // Risk table
  for (let g = 0; g < 2; g++) {
    const y = ca.bottom + st.riskRows[g];
    ctx.fillStyle = LINE_COLORS[g];
    ctx.font = `${st.riskLabelFont}px ${FONT}`;
    ctx.textAlign = 'right';
    ctx.fillText(GROUPS[g], ca.left - st.riskLabelGap, y);
    ctx.font = `${st.riskNumFont}px ${FONT}`;
    P.risk[g].forEach((n, j) => {
      ctx.textAlign = RISK_ALIGN[j];
      ctx.fillText(String(n), xs.getPixelForValue(RISK_TIMES[j]), y);
    });
  }
  // Legend (main chart only)
  if (st.legend) {
    const lg = st.legend;
    for (let g = 0; g < 2; g++) {
      const y = lg.rows[g];
      ctx.strokeStyle = LINE_COLORS[g];
      ctx.lineWidth = lg.lineW;
      ctx.beginPath(); ctx.moveTo(lg.lineX[0], y); ctx.lineTo(lg.lineX[1], y); ctx.stroke();
      ctx.fillStyle = '#000';
      ctx.font = `${lg.font}px ${FONT}`;
      ctx.textAlign = 'left';
      ctx.fillText(GROUPS[g], lg.textX, y);
    }
  }
  ctx.restore();
}

function buildPanel(P) {
  const B = P.box, st = P.style;
  const cv = document.createElement('canvas');
  cv.width = B.w; cv.height = B.h;
  cv.style.left = B.x + 'px'; cv.style.top = B.y + 'px';
  cv.style.width = B.w + 'px'; cv.style.height = B.h + 'px';
  document.body.appendChild(cv);

  const aL = B.l - B.x, aT = B.t - B.y, aR = B.r - B.x, aB = B.b - B.y;
  const datasets = [];
  for (let g = 0; g < 2; g++) {
    datasets.push({ label: GROUPS[g] + ' upper', data: toXY(P.uppers[g]), stepped: 'before', borderWidth: 0,
      borderColor: 'rgba(0,0,0,0)', pointRadius: 0, fill: false, order: 31 - g * 10 });
    datasets.push({ label: GROUPS[g] + ' lower', data: toXY(P.lowers[g]), stepped: 'before', borderWidth: 0,
      borderColor: 'rgba(0,0,0,0)', backgroundColor: BAND_COLORS[g], pointRadius: 0, fill: '-1', order: 30 - g * 10 });
  }
  for (let g = 0; g < 2; g++) {
    datasets.push({ label: GROUPS[g], data: toXY(P.curves[g]), stepped: 'before', borderColor: LINE_COLORS[g],
      borderWidth: st.lineW, pointRadius: 0, fill: false, order: 11 - g });
  }
  for (let g = 0; g < 2; g++) {
    datasets.push({ label: GROUPS[g] + ' censor', data: P.censors[g].map(t => ({ x: t, y: survAt(P.curves[g], t) })),
      showLine: false, pointStyle: 'cross', pointRadius: st.censorR, pointBorderWidth: st.censorW,
      pointBorderColor: LINE_COLORS[g], pointBackgroundColor: LINE_COLORS[g], borderColor: LINE_COLORS[g],
      fill: false, order: 1 - g });
  }

  const axisCommon = {
    grid: { display: true, drawOnChartArea: false, drawTicks: true, tickLength: st.tickLen, tickWidth: st.axisW, tickColor: '#000' },
    border: { display: true, color: '#000', width: st.axisW }
  };

  new Chart(cv, {
    type: 'line',
    data: { datasets },
    options: {
      responsive: false, animation: false, devicePixelRatio: 1, events: [],
      layout: { padding: { left: 0, top: aT, right: B.w - aR, bottom: B.h - aB - st.xAxisH } },
      plugins: { legend: { display: false }, tooltip: { enabled: false }, title: { display: false } },
      scales: {
        x: Object.assign({}, axisCommon, {
          type: 'linear', min: -0.21, max: 10.17,
          afterBuildTicks: s => { s.ticks = X_TICKS.map(v => ({ value: v })); },
          afterFit: s => { s.height = st.xAxisH; },
          ticks: { color: '#000', font: { size: st.tickFont, family: FONT }, padding: st.xTickPad, maxRotation: 0, autoSkip: false,
            callback: (v, i) => X_TICK_LABELS[i] },
          title: { display: true, text: 'Time (year)', color: '#000', font: { size: st.axisTitleFont, family: FONT }, padding: 0 }
        }),
        y: Object.assign({}, axisCommon, {
          type: 'linear', min: P.yMin, max: P.yMax,
          afterBuildTicks: s => { s.ticks = P.yTicks.map(v => ({ value: v })); },
          afterFit: s => { s.width = aL; },
          ticks: { color: '#000', font: { size: st.tickFont, family: FONT }, padding: st.yTickPad, autoSkip: false,
            callback: (v, i) => P.yLabels[i] },
          title: { display: true, text: 'Survival probability', color: '#000', font: { size: st.axisTitleFont, family: FONT },
            padding: { top: (B.yTitleX - B.x) - st.axisTitleFont * 0.6, bottom: 0 } }
        })
      }
    },
    plugins: [{ id: 'kmExtras', afterDraw: chart => drawExtras(chart, P) }]
  });
}

Chart.defaults.font.family = FONT;
PANELS.forEach(buildPanel);
</script>
</body>
</html>
